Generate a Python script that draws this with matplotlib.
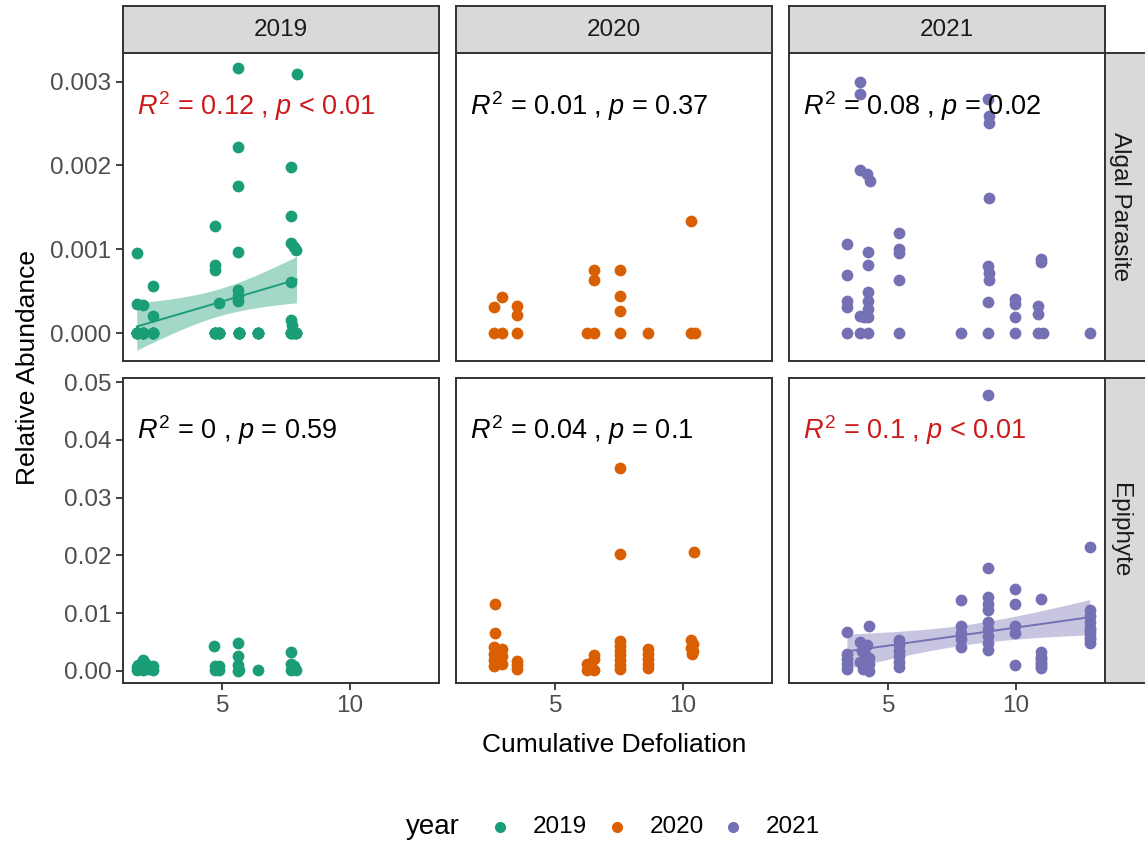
import numpy as np
import matplotlib
matplotlib.use("Agg")
import matplotlib.pyplot as plt
from matplotlib.lines import Line2D

plt.rcParams['font.family'] = ['Liberation Sans', 'DejaVu Sans']
plt.rcParams['mathtext.fontset'] = 'custom'
plt.rcParams['mathtext.rm'] = 'Liberation Sans'
plt.rcParams['mathtext.it'] = 'Liberation Sans:italic'

# data (many samples sit on top of each other at 0)
years = ['2019', '2020', '2021']
groups = ['Algal Parasite', 'Epiphyte']
colors = ['#1B9E77', '#D95F02', '#7570B3']

x19_alg = [1.64, 1.64, 1.9, 2.26, 2.26, 1.64, 1.9, 2.26,
           1.64, 1.64, 1.64, 1.9, 1.9, 1.9, 1.9, 2.26, 2.26, 2.26, 1.64, 1.9, 2.26, 1.64,
           4.70, 4.70, 4.72, 4.85, 4.70, 4.85,
           4.70, 4.70, 4.70, 4.85, 4.85, 4.85, 4.70, 4.85,
           5.60, 5.60, 5.60, 5.60, 5.60, 5.60, 5.60, 5.65, 6.39,
           5.65, 5.65, 5.65, 5.65, 5.65, 5.65, 6.39, 6.39, 6.39,
           7.91, 7.70, 7.70, 7.70, 7.80, 7.90, 7.70, 7.70, 7.75, 7.70, 7.90,
           7.70, 7.70, 7.90, 7.90, 7.80]
y19_alg = [0.00096, 0.00035, 0.00034, 0.00056, 0.00021, 0, 0, 0,
           0, 0, 0, 0, 0, 0, 0, 0, 0, 0, 0, 0, 0, 0,
           0.00128, 0.00081, 0.00075, 0.00036, 0, 0,
           0, 0, 0, 0, 0, 0, 0, 0,
           0.00316, 0.00222, 0.00175, 0.00097, 0.00052, 0.00045, 0.00039, 0, 0,
           0, 0, 0, 0, 0, 0, 0, 0, 0,
           0.00309, 0.00198, 0.0014, 0.00108, 0.00103, 0.00099, 0.00061, 0.00016, 0.0001, 0, 0,
           0, 0, 0, 0, 0]

x20_alg = [2.59, 2.89, 3.50, 2.59, 2.92, 3.50, 3.50,
           6.24, 6.52, 6.52, 6.52,
           7.54, 7.54, 7.54, 7.54,
           8.62,
           10.31, 10.31, 10.47]
y20_alg = [0, 0, 0, 0.00031, 0.00043, 0.00033, 0.00022,
           0, 0, 0.00075, 0.00064,
           0.00076, 0.00044, 0.00027, 0,
           0,
           0.00134, 0, 0]

x21_alg = [3.89, 3.89, 3.89, 4.15, 4.28,
           3.37, 3.37, 3.37, 3.37, 3.37,
           3.89, 3.89,
           4.2, 4.2, 4.2, 4.2, 4.2, 4.2, 4.05, 4.2,
           5.41, 5.41, 5.41, 5.41, 5.41,
           7.83,
           8.89, 8.95, 8.95, 8.95, 8.89, 8.95, 8.95, 8.89, 8.89,
           9.96, 9.96, 9.96, 9.96,
           11.0, 11.0, 10.87, 10.87, 10.87, 11.05,
           12.9]
y21_alg = [0.00299, 0.00285, 0.00195, 0.0019, 0.00181,
           0.00107, 0.00069, 0.00039, 0.00031, 0,
           0.00021, 0,
           0.00097, 0.00081, 0.00049, 0.00039, 0.00029, 0.00019, 0.00019, 0,
           0.00119, 0.00101, 0.00096, 0.00064, 0,
           0,
           0.00279, 0.00259, 0.00251, 0.00161, 0.0008, 0.00072, 0.00064, 0.00037, 0,
           0.00041, 0.00035, 0.0002, 0,
           0.00089, 0.00085, 0.00032, 0.00023, 0, 0,
           0]

x19_epi = [1.64, 1.8, 1.9, 2.1, 2.26, 1.7, 1.9, 2.0, 1.64, 2.26,
           4.66, 4.70, 4.85, 4.70, 4.85,
           5.60, 5.60, 5.60, 5.65, 5.60,
           6.39,
           7.70, 7.70, 7.70, 7.90, 7.80]
y19_epi = [0.0002, 0.0003, 0.0002, 0.0004, 0.0002, 0.001, 0.0019, 0.0012, 0.0006, 0.0008,
           0.0043, 0.0009, 0.0008, 0.0002, 0.0002,
           0.0048, 0.0025, 0.001, 0.0002, 0.0,
           0.0002,
           0.0033, 0.0012, 0.0002, 0.0002, 0.0008]

x20_epi = [7.54, 7.54, 10.43,
           2.62, 2.62,
           2.6, 2.6, 2.6, 2.9, 2.9, 2.9, 2.6,
           3.5, 3.5, 3.5,
           6.24, 6.3, 6.52, 6.52, 6.52, 6.24,
           7.54, 7.54, 7.54, 7.54, 7.54, 7.54, 7.54,
           8.62, 8.62, 8.62, 8.62, 8.62,
           10.31, 10.4, 10.31, 10.4, 10.35]
y20_epi = [0.0352, 0.0203, 0.0205,
           0.0115, 0.0065,
           0.0042, 0.003, 0.0018, 0.0038, 0.0025, 0.0012, 0.0008,
           0.0017, 0.001, 0.0003,
           0.0012, 0.0005, 0.0028, 0.002, 0.0001, 0.0002,
           0.0052, 0.0043, 0.0035, 0.0027, 0.0018, 0.001, 0.0003,
           0.0038, 0.003, 0.002, 0.0012, 0.0005,
           0.0053, 0.0046, 0.004, 0.0034, 0.003]

x21_epi = [8.89, 12.9, 8.89,
           9.96, 9.96,
           11.0,
           7.83,
           8.89, 8.89, 8.89,
           8.89, 8.89, 8.89, 8.89, 8.89,
           9.96, 9.96, 9.96,
           11.0, 11.0, 11.0, 11.0, 11.0, 11.0, 11.0,
           12.9, 12.9, 12.9, 12.9, 12.9, 12.9, 12.9, 12.9, 12.9,
           7.83, 7.83, 7.83, 7.83,
           5.41, 5.41, 5.41, 5.41, 5.41, 5.41,
           3.37, 4.25,
           3.37, 3.37, 3.37, 3.37,
           3.9, 4.0, 4.1, 4.25, 3.9, 4.1, 4.25, 3.95, 4.15, 4.0, 4.25]
y21_epi = [0.0478, 0.0214, 0.0178,
           0.0142, 0.0116,
           0.0125,
           0.0122,
           0.0128, 0.0116, 0.0105,
           0.0084, 0.0072, 0.006, 0.0048, 0.0036,
           0.0078, 0.0066, 0.001,
           0.0032, 0.0024, 0.0016, 0.0008, 0.0005, 0.0012, 0.002,
           0.0105, 0.0095, 0.0085, 0.0075, 0.0065, 0.0048, 0.0055, 0.0058, 0.007,
           0.0078, 0.0066, 0.0055, 0.0042,
           0.0053, 0.0044, 0.0035, 0.0025, 0.0015, 0.0007,
           0.0068, 0.0077,
           0.003, 0.002, 0.0012, 0.0003,
           0.005, 0.004, 0.003, 0.0022, 0.0015, 0.0008, 0.0, 0.0035, 0.0045, 0.0003, 0.0012]

panel_x = [[x19_alg, x20_alg, x21_alg], [x19_epi, x20_epi, x21_epi]]
panel_y = [[y19_alg, y20_alg, y21_alg], [y19_epi, y20_epi, y21_epi]]

# stat labels: (R2, p-text, significant)
stat_labels = [[('0.12', '< 0.01', True), ('0.01', '= 0.37', False), ('0.08', '= 0.02', False)],
               [('0', '= 0.59', False), ('0.04', '= 0.1', False), ('0.1', '< 0.01', True)]]

yticks = [[0, 0.001, 0.002, 0.003], [0, 0.01, 0.02, 0.03, 0.04, 0.05]]
yticklabels = [['0.000', '0.001', '0.002', '0.003'], ['0.00', '0.01', '0.02', '0.03', '0.04', '0.05']]
ylims = [(-0.00033, 0.00334), (-0.0021, 0.0507)]
xlim = (1.1, 13.5)

W, H = 1145, 843
fig = plt.figure(figsize=(W / 100, H / 100), dpi=100)

col_left = [123, 456, 789]
col_w = 316
row_top = [53, 378]
row_h = [308, 305]
edge = '#333333'
red = '#CC1A1A'


def fit_band(x, y):
    x = np.array(x)
    y = np.array(y)
    n = len(x)
    b, a = np.polyfit(x, y, 1)
    xs = np.linspace(x.min(), x.max(), 80)
    ys = a + b * xs
    resid = y - (a + b * x)
    s = np.sqrt(np.sum(resid ** 2) / (n - 2))
    se = s * np.sqrt(1 / n + (xs - x.mean()) ** 2 / np.sum((x - x.mean()) ** 2))
    return xs, ys, ys - 2.0 * se, ys + 2.0 * se


for r in range(2):
    for c in range(3):
        ax = fig.add_axes([col_left[c] / W, 1 - (row_top[r] + row_h[r]) / H, col_w / W, row_h[r] / H])
        ax.scatter(panel_x[r][c], panel_y[r][c], s=72, color=colors[c], linewidths=0, zorder=2)
        if stat_labels[r][c][2]:
            xs, ys, lo, hi = fit_band(panel_x[r][c], panel_y[r][c])
            ax.fill_between(xs, lo, hi, color=colors[c], alpha=0.4, linewidth=0, zorder=3)
            ax.plot(xs, ys, color=colors[c], lw=1.4, zorder=4)
        r2, ptxt, sig = stat_labels[r][c]
        ax.text(0.045, 0.80, r'$\mathit{R}^{2}$' + ' = ' + r2 + ' , ' + r'$\mathit{p}$' + ' ' + ptxt,
                transform=ax.transAxes, ha='left', va='baseline', fontsize=19.5,
                color=red if sig else 'black', zorder=5)
        ax.set_xlim(xlim)
        ax.set_ylim(ylims[r])
        for sp in ax.spines.values():
            sp.set_color(edge)
            sp.set_linewidth(1.4)
        ax.tick_params(colors=edge, length=5, width=1.3, labelsize=17.5, labelcolor='#4D4D4D')
        ax.set_xticks([5, 10])
        ax.set_yticks(yticks[r])
        if r == 1:
            ax.set_xticklabels(['5', '10'])
        else:
            ax.tick_params(axis='x', length=0, labelbottom=False)
        if c == 0:
            ax.set_yticklabels(yticklabels[r])
        else:
            ax.tick_params(axis='y', length=0, labelleft=False)

# strips on top
for c in range(3):
    sax = fig.add_axes([col_left[c] / W, 1 - 53 / H, col_w / W, 47 / H])
    sax.set_facecolor('#D9D9D9')
    sax.set_xticks([])
    sax.set_yticks([])
    for sp in sax.spines.values():
        sp.set_color(edge)
        sp.set_linewidth(1.4)
    sax.text(0.5, 0.5, years[c], ha='center', va='center', fontsize=17.5, color='#1A1A1A',
             transform=sax.transAxes)

# strips on the right
for r in range(2):
    sax = fig.add_axes([1105 / W, 1 - (row_top[r] + row_h[r]) / H, 50 / W, row_h[r] / H])
    sax.set_facecolor('#D9D9D9')
    sax.set_xticks([])
    sax.set_yticks([])
    for sp in sax.spines.values():
        sp.set_color(edge)
        sp.set_linewidth(1.4)
    fig.text(1120 / W, 1 - (row_top[r] + row_h[r] / 2) / H, groups[r], rotation=270,
             ha='center', va='center', fontsize=17.5, color='#1A1A1A')

fig.text(28 / W, 1 - 368 / H, 'Relative Abundance', rotation=90, ha='center', va='center', fontsize=19)
fig.text(614 / W, 1 - 745 / H, 'Cumulative Defoliation', ha='center', va='center', fontsize=19)

# legend, laid out by hand like the ggplot bottom legend
leg_y = 1 - 827 / H
fig.text(406 / W, leg_y, 'year', ha='left', va='center', fontsize=20)
leg_marker_x = [500, 617, 733]
for i in range(3):
    fig.add_artist(Line2D([leg_marker_x[i] / W], [leg_y], transform=fig.transFigure, ls='',
                          marker='o', ms=8, mew=0, color=colors[i]))
    fig.text((leg_marker_x[i] + 33) / W, leg_y, years[i], ha='left', va='center', fontsize=17.5)

fig.savefig('out.png', dpi=100)
